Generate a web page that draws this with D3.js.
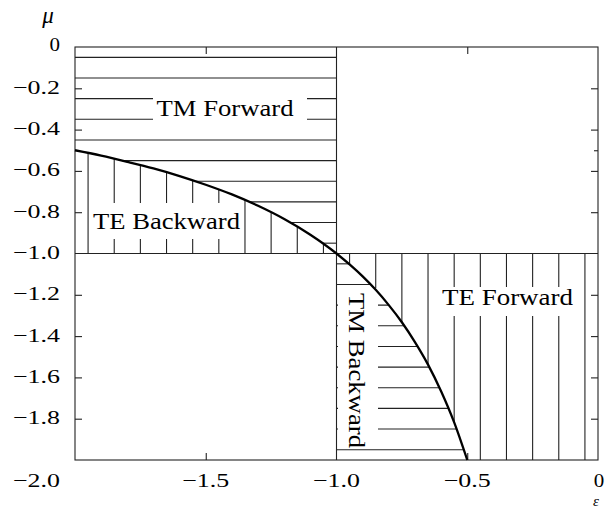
<!DOCTYPE html>
<html><head><meta charset="utf-8">
<script src="https://cdn.jsdelivr.net/npm/d3@7"></script>
<style>body{margin:0;background:#fff}svg text{font-family:"Liberation Serif","Times New Roman",serif;fill:#000}</style>
</head><body>
<svg id="c" width="605" height="508"></svg>
<script>
// ---- data ----
const curveEps = [-2.0,-1.9,-1.8,-1.7,-1.6,-1.5,-1.4,-1.3,-1.2,-1.1,-1.0,-0.95,-0.9,-0.85,-0.8,-0.75,-0.7,-0.65,-0.6,-0.55,-0.5];
const curveMu  = [-0.5,-0.526,-0.556,-0.588,-0.625,-0.667,-0.714,-0.769,-0.833,-0.909,-1.0,-1.053,-1.111,-1.176,-1.25,-1.333,-1.429,-1.538,-1.667,-1.818,-2.0];
const xTickValues = [-1.5,-1.0,-0.5,0];
const xTickLabels = ["−1.5","−1.0","−0.5","0"];
const yTickValues = [0,-0.2,-0.4,-0.6,-0.8,-1.0,-1.2,-1.4,-1.6,-1.8,-2.0];
const yTickLabels = ["0","−0.2","−0.4","−0.6","−0.8","−1.0","−1.2","−1.4","−1.6","−1.8","−2.0"];
const leftTicks = [-0.2,-0.4,-0.6,-0.8,-1.2,-1.4,-1.6,-1.8];
const rightTicks = [-0.2,-0.4,-0.6,-0.8,-1.2,-1.4,-1.6,-1.8];
const rightMinorTicks = [-0.5];
const topTicks = [-1.5,-0.5];
const bottomTicks = [-1.5,-0.5];
const hatchMuUpper = [-0.05,-0.15,-0.25,-0.35,-0.45,-0.55,-0.65,-0.75,-0.85,-0.95];
const hatchEpsLeft = [-1.95,-1.85,-1.75,-1.65,-1.55,-1.45,-1.35,-1.25,-1.15,-1.05];
const hatchEpsRight = [-0.95,-0.85,-0.75,-0.65,-0.55,-0.45,-0.35,-0.25,-0.15,-0.05];
const hatchMuLower = [-1.05,-1.15,-1.25,-1.35,-1.45,-1.55,-1.65,-1.75,-1.85,-1.95];
const regionNames = ["TM Forward","TE Backward","TE Forward","TM Backward"];

// ---- drawing ----
const svg = d3.select("#c");
const x = d3.scaleLinear().domain([-2,0]).range([75,598]);
const y = d3.scaleLinear().domain([0,-2]).range([47,460]);
const stroke = "#222";

const pts = curveEps.map((e,i)=>[e,curveMu[i]]);
function muAt(e){
  for(let i=0;i<pts.length-1;i++){
    const [e0,m0]=pts[i],[e1,m1]=pts[i+1];
    if(e>=e0 && e<=e1) return m0+(m1-m0)*(e-e0)/(e1-e0);
  }
  return null;
}
function epsAt(m){
  for(let i=0;i<pts.length-1;i++){
    const [e0,m0]=pts[i],[e1,m1]=pts[i+1];
    if(m<=m0 && m>=m1) return e0+(e1-e0)*(m-m0)/(m1-m0);
  }
  return null;
}

const hatch = svg.append("g").attr("stroke",stroke).attr("stroke-width",1.1).attr("fill","none");
// TM Forward: horizontal lines above curve in upper-left quadrant
hatchMuUpper.forEach(m=>{
  const e0 = m > -0.5 ? -2 : epsAt(m);
  hatch.append("line").attr("x1",x(e0)).attr("x2",x(-1)).attr("y1",y(m)).attr("y2",y(m));
});
// TE Backward: vertical lines below curve in upper-left quadrant
hatchEpsLeft.forEach(e=>{
  hatch.append("line").attr("x1",x(e)).attr("x2",x(e)).attr("y1",y(-1)).attr("y2",y(muAt(e)));
});
// TE Forward: vertical lines right of curve in lower-right quadrant
hatchEpsRight.forEach(e=>{
  const m1 = e < -0.5 ? muAt(e) : -2;
  hatch.append("line").attr("x1",x(e)).attr("x2",x(e)).attr("y1",y(-1)).attr("y2",y(m1));
});
// TM Backward: horizontal lines left of curve in lower-right quadrant
hatchMuLower.forEach(m=>{
  hatch.append("line").attr("x1",x(-1)).attr("x2",x(epsAt(m))).attr("y1",y(m)).attr("y2",y(m));
});

// label masks + labels
const labelLayout = [
  {cx:225, cy:108, w:137, box:[153,88,154,41], rot:0},
  {cx:166.5, cy:221, w:147, box:[90,203,153,36], rot:0},
  {cx:507.5, cy:297.5, w:131, box:[438,287,139,29], rot:0},
  {cx:357, cy:370.5, w:155, box:[338,288,40,158], rot:90}
];
const lab = svg.append("g");
regionNames.forEach((name,i)=>{
  const L = labelLayout[i];
  lab.append("rect").attr("x",L.box[0]).attr("y",L.box[1]).attr("width",L.box[2]).attr("height",L.box[3]).attr("fill","#fff");
  lab.append("text").text(name)
    .attr("transform",`translate(${L.cx},${L.cy}) rotate(${L.rot})`)
    .attr("text-anchor","middle").attr("y",7.7)
    .attr("font-size",22.5)
    .attr("textLength",L.w).attr("lengthAdjust","spacingAndGlyphs");
});

// frame and quadrant lines
const frame = svg.append("g").attr("stroke",stroke).attr("stroke-width",1.1).attr("fill","none");
frame.append("rect").attr("x",x(-2)).attr("y",y(0)).attr("width",x(0)-x(-2)).attr("height",y(-2)-y(0));
frame.append("line").attr("x1",x(-1)).attr("x2",x(-1)).attr("y1",y(0)).attr("y2",y(-2));
frame.append("line").attr("x1",x(-2)).attr("x2",x(0)).attr("y1",y(-1)).attr("y2",y(-1));

// ticks via axes
function tickAxis(axis, tr){
  const g = svg.append("g").attr("transform",tr).call(axis);
  g.select(".domain").remove();
  g.selectAll("line").attr("stroke",stroke).attr("stroke-width",1.1);
  g.selectAll("text").remove();
}
tickAxis(d3.axisLeft(y).tickValues(leftTicks).tickSize(-7).tickFormat(""), `translate(${x(-2)},0)`);
tickAxis(d3.axisRight(y).tickValues(rightTicks).tickSize(-7).tickFormat(""), `translate(${x(0)},0)`);
tickAxis(d3.axisRight(y).tickValues(rightMinorTicks).tickSize(-4).tickFormat(""), `translate(${x(0)},0)`);
tickAxis(d3.axisTop(x).tickValues(topTicks).tickSize(-7).tickFormat(""), `translate(0,${y(0)})`);
tickAxis(d3.axisBottom(x).tickValues(bottomTicks).tickSize(-7).tickFormat(""), `translate(0,${y(-2)})`);

// curve
svg.append("path").datum(pts)
  .attr("d", d3.line().x(d=>x(d[0])).y(d=>y(d[1])).curve(d3.curveMonotoneX))
  .attr("fill","none").attr("stroke","#000").attr("stroke-width",2.3);

// tick labels
const yl = svg.append("g");
yTickValues.forEach((v,i)=>{
  let cy = y(v) - 1;
  if(v===0) cy = 44;
  if(v===-2) cy = 480;
  yl.append("text").text(yTickLabels[i])
    .attr("x",60).attr("y",cy+6.5).attr("text-anchor","end").attr("font-size",19.5)
    .attr("textLength", yTickLabels[i].length>1 ? 47 : 10.5).attr("lengthAdjust","spacingAndGlyphs");
});
const xl = svg.append("g");
xTickValues.forEach((v,i)=>{
  xl.append("text").text(xTickLabels[i])
    .attr("x",x(v)+(v===0?1:0)).attr("y",486.5).attr("text-anchor","middle").attr("font-size",19.5)
    .attr("textLength", xTickLabels[i].length>1 ? 47 : 10.5).attr("lengthAdjust","spacingAndGlyphs");
});

// axis names
svg.append("text").text("μ").attr("x",48).attr("y",23).attr("text-anchor","middle")
  .attr("font-size",23).attr("font-style","italic");
svg.append("text").text("ε").attr("x",596).attr("y",505.5).attr("text-anchor","middle")
  .attr("font-size",15).attr("font-style","italic");
</script>
</body></html>
